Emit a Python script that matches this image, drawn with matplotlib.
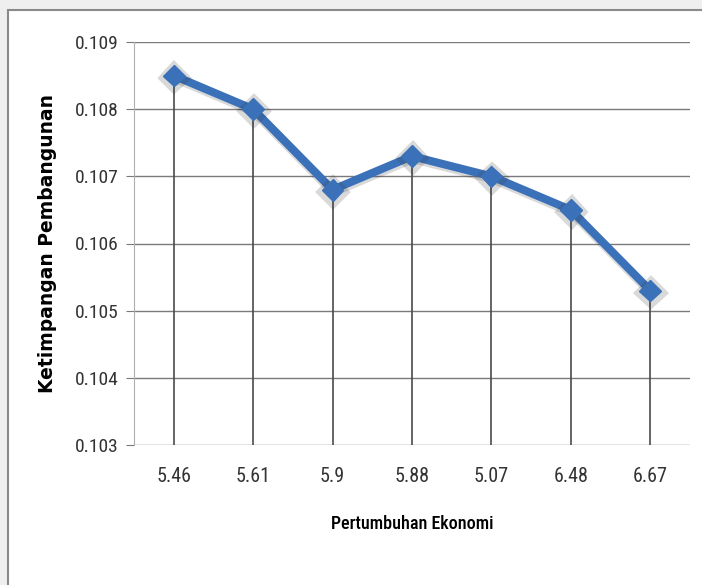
import matplotlib.pyplot as plt
import matplotlib.patheffects as pe
from matplotlib import font_manager
from matplotlib.patches import Rectangle

# ---------------- DATA ----------------

growth = ["5.46", "5.61", "5.9", "5.88", "5.07", "6.48", "6.67"]
inequality = [0.1085, 0.1080, 0.1068, 0.1073, 0.1070, 0.1065, 0.1053]
y_ticks = [0.103, 0.104, 0.105, 0.106, 0.107, 0.108, 0.109]


# ---------------- FONTS ----------------

installed = {f.name for f in font_manager.fontManager.ttflist}
narrow_candidates = ["Liberation Sans Narrow", "DejaVu Sans Condensed",
                     "Roboto Condensed", "Open Sans Condensed", "Liberation Sans"]
narrow = [n for n in narrow_candidates if n in installed][:1] + ["DejaVu Sans"]
condensed = "condensed" if narrow[0] == "DejaVu Sans Condensed" else "normal"


# ---------------- FIGURE ----------------

fig = plt.figure(figsize=(7.02, 5.85), dpi=100)
fig.patch.set_facecolor("#efefef")

# chart frame, kept behind the axes
frame = Rectangle((8 / 702, -0.05), 1.0, 1 - 10 / 585 + 0.05,
                  transform=fig.transFigure, facecolor="white",
                  edgecolor="#8a8a8a", linewidth=1.5, zorder=-5)
fig.add_artist(frame)

ax = fig.add_axes([134 / 702, 1 - 445 / 585, 556 / 702, 403 / 585])
ax.set_facecolor("none")
ax.set_zorder(1)

x = list(range(len(growth)))

# horizontal gridlines
for t in y_ticks:
    ax.axhline(t, color="#7a7a7a", lw=1, zorder=1)

# drop lines from each point to the axis
ax.vlines(x, 0.103, inequality, color="#4a4a4a", lw=1.2, zorder=2)

ax.plot(
    x, inequality,
    color="#3b71b9", lw=5.8,
    marker="D", markersize=11,
    solid_joinstyle="round",
    zorder=3,
    path_effects=[
        pe.SimpleLineShadow(offset=(0.5, -1.5), shadow_color="#303030", alpha=0.18, linewidth=7),
        pe.Normal(),
    ],
)

ax.set_xlim(-0.5, len(growth) - 0.5)
ax.set_ylim(0.103, 0.109)
ax.set_yticks(y_ticks)
ax.set_yticklabels([f"{t:.3f}" for t in y_ticks], family=narrow, stretch=condensed,
                   fontsize=14, color="#333333")
ax.set_xticks(x)
ax.set_xticklabels(growth, family=narrow, stretch=condensed, fontsize=14.5, color="#333333")

ax.tick_params(axis="y", length=6, color="#7a7a7a", pad=5)
ax.tick_params(axis="x", length=0, pad=16)

for side in ["top", "right", "bottom"]:
    ax.spines[side].set_visible(False)
ax.spines["left"].set_color("#b0b0b0")

ax.set_ylabel("Ketimpangan Pembangunan", fontsize=13.5, fontweight="bold", labelpad=13)
ax.set_xlabel("Pertumbuhan Ekonomi", family=narrow, stretch=condensed, fontsize=13,
              fontweight="medium", color="black", labelpad=21)

plt.savefig("out.png", dpi=100)
